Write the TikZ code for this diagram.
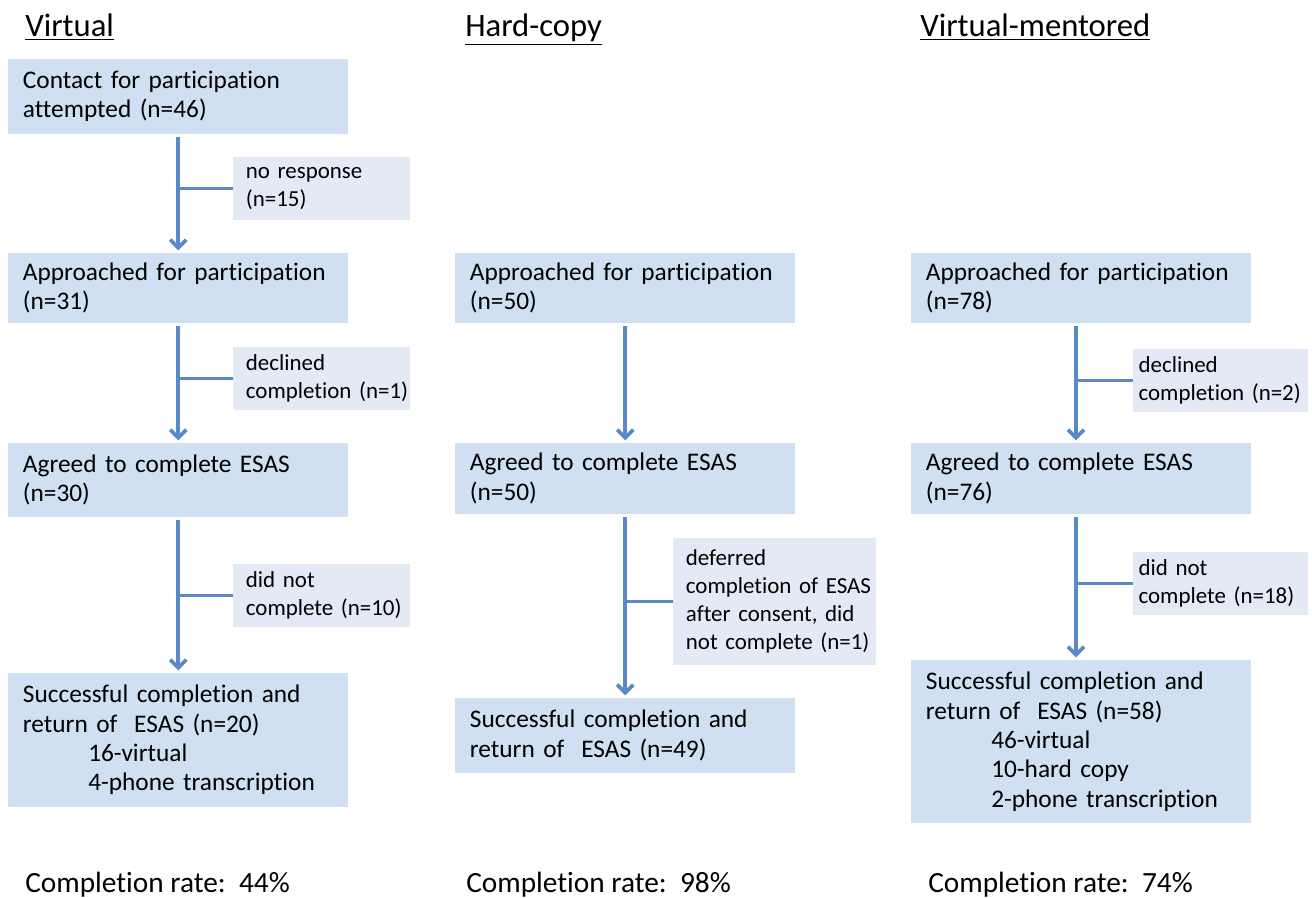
\documentclass[tikz,border=0pt]{standalone}
\usepackage{fontspec}
\setmainfont{Carlito}[Ligatures=NoCommon]
\usetikzlibrary{arrows.meta}
\definecolor{boxblue}{HTML}{D0DFF1}
\definecolor{sideblue}{HTML}{E3EAF5}
\definecolor{flowblue}{HTML}{5A8AC6}
\tikzset{
  mainbox/.style={fill=boxblue, anchor=north west, align=left,
    inner xsep=11pt, inner ysep=2pt, text width=233pt, minimum height=#1,
    font=\fontsize{19}{22}\selectfont},
  sidebox/.style={fill=sideblue, anchor=north west, align=left,
    inner xsep=9.5pt, inner ysep=2pt, text width=#1, minimum height=47pt,
    font=\fontsize{17.2}{21}\selectfont},
  flow/.style={draw=flowblue, line width=2.8pt,
    -{Straight Barb[length=6pt,width=12pt]}, shorten <=2pt, shorten >=2pt},
  branch/.style={draw=flowblue, line width=2.8pt},
  coltitle/.style={anchor=base west, inner sep=0pt, font=\fontsize{24.5}{28}\selectfont},
  rate/.style={anchor=west, inner sep=0pt, font=\fontsize{22}{24}\selectfont}
}
\newcommand{\ind}{\hspace*{49pt}}
\hbadness=10000 \hfuzz=20pt
\begin{document}
\begin{tikzpicture}[x=0.75pt,y=-0.75pt]
\useasboundingbox (0,0) rectangle (1312,898);
% column titles
\node[coltitle] (tv) at (25,37) {\underline{Virtual}};
\node[coltitle] (th) at (465,37) {\underline{Hard-copy}};
\node[coltitle] (tm) at (920,37) {\underline{Virtual-mentored}};
% virtual
\node[mainbox=56pt] (v1) at (8,59) {Contact for participation\\attempted (n=46)};
\node[mainbox=52pt] (v2) at (8,253) {Approached for participation\\(n=31)};
\node[mainbox=55pt] (v3) at (8,443) {Agreed to complete ESAS\\(n=30)};
\node[mainbox=100pt] (v4) at (8,673) {Successful completion and\\return of\ \ ESAS (n=20)\\\ind 16-virtual\\\ind 4-phone transcription};
\node[sidebox=113.5pt] (vs1) at (233,157) {no response\\(n=15)};
\node[sidebox=113.5pt] (vs2) at (233,347) {declined\\\mbox{completion (n=1)}};
\node[sidebox=113.5pt] (vs3) at (233,564) {did not\\\mbox{complete (n=10)}};
\draw[flow] (v1.south) -- (v2.north);
\draw[flow] (v2.south) -- (v3.north);
\draw[flow] (v3.south) -- (v4.north);
\draw[branch] (vs1.west) -- (vs1.west -| v1.south);
\draw[branch] (vs2.west) -- (vs2.west -| v2.south);
\draw[branch] (vs3.west) -- (vs3.west -| v3.south);
% hard-copy
\node[mainbox=52pt] (h2) at (455,253) {Approached for participation\\(n=50)};
\node[mainbox=53pt] (h3) at (455,443) {Agreed to complete ESAS\\(n=50)};
\node[mainbox=56pt] (h4) at (455,698) {Successful completion and\\return of\ \ ESAS (n=49)};
\node[sidebox=133pt, minimum height=95pt] (hs3) at (673,538) {deferred\\\mbox{completion of ESAS}\\\mbox{after consent, did}\\\mbox{not complete (n=1)}};
\draw[flow] (h2.south) -- (h3.north);
\draw[flow] (h3.south) -- (h4.north);
\draw[branch] (hs3.west) -- (hs3.west -| h3.south);
% virtual-mentored
\node[mainbox=52pt] (m2) at (911,253) {Approached for participation\\(n=78)};
\node[mainbox=53pt] (m3) at (911,443) {Agreed to complete ESAS\\(n=76)};
\node[mainbox=122pt] (m4) at (911,660) {Successful completion and\\return of\ \ ESAS (n=58)\\\ind 46-virtual\\\ind 10-hard copy\\\ind 2-phone transcription};
\node[sidebox=123pt, inner xsep=4pt] (ms2) at (1133,349) {declined\\\mbox{completion (n=2)}};
\node[sidebox=123pt, inner xsep=4pt] (ms3) at (1133,552) {did not\\\mbox{complete (n=18)}};
\coordinate (ma) at ([xshift=-4pt]m2.south);
\coordinate (mb) at ([xshift=-4pt]m3.south);
\draw[flow] (ma) -- (ma |- m3.north);
\draw[flow] (mb) -- (mb |- m4.north);
\draw[branch] (ms2.west) -- (ms2.west -| ma);
\draw[branch] (ms3.west) -- (ms3.west -| mb);
% rates
\node[rate] (rv) at (25,885) {Completion rate:\ \ 44\%};
\node[rate] (rh) at (466,885) {Completion rate:\ \ 98\%};
\node[rate] (rm) at (928,885) {Completion rate:\ \ 74\%};
\end{tikzpicture}
\end{document}
